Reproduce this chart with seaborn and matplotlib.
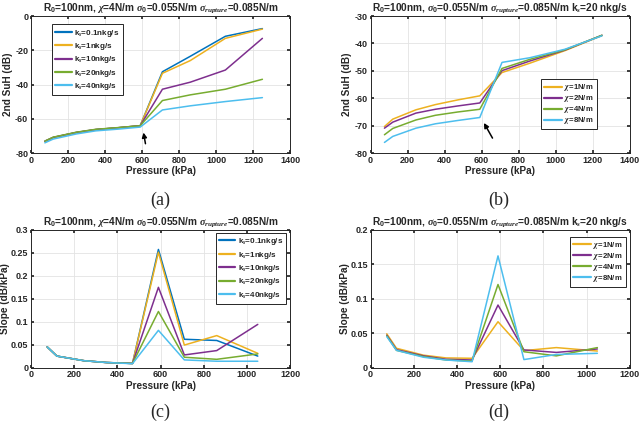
import pandas as pd
import seaborn as sns
import matplotlib.pyplot as plt

# Pressure grid (kPa)
p_suh = [75, 120, 245, 350, 470, 590, 710, 860, 1050, 1250]
p_slope = [75, 120, 245, 350, 470, 590, 710, 860, 1050]

# (a) 2nd SuH vs pressure for several shell viscosities
ks_labels = ['k$_s$=0.1nkg/s', 'k$_s$=1nkg/s', 'k$_s$=10nkg/s', 'k$_s$=20nkg/s', 'k$_s$=40nkg/s']
suh_ks = [
    [-73.2, -70.9, -68.0, -66.3, -65.2, -64.0, -32.5, -23.5, -11.8, -7.3],
    [-73.2, -70.9, -68.0, -66.3, -65.2, -64.0, -33.4, -26.0, -13.0, -7.6],
    [-73.0, -70.8, -67.9, -66.2, -65.2, -64.0, -42.7, -38.6, -31.5, -13.0],
    [-73.0, -70.7, -67.8, -66.1, -65.1, -64.0, -49.3, -46.0, -42.7, -36.9],
    [-74.0, -71.8, -68.8, -67.0, -66.0, -64.8, -54.8, -52.4, -49.9, -47.6],
]

# (b) 2nd SuH vs pressure for several shell elasticities
chi_labels = [r'$\chi$=1N/m', r'$\chi$=2N/m', r'$\chi$=4N/m', r'$\chi$=8N/m']
suh_chi = [
    [-70.3, -67.6, -64.2, -62.3, -60.6, -59.1, -50.6, -47.2, -42.6, -37.1],
    [-70.9, -68.7, -65.4, -64.0, -62.8, -61.7, -49.9, -46.4, -42.4, -37.0],
    [-73.3, -71.0, -67.9, -66.2, -65.0, -64.0, -49.1, -45.8, -42.3, -37.0],
    [-76.1, -73.9, -70.9, -69.3, -68.1, -67.0, -46.9, -45.2, -42.1, -37.2],
]

# (c) slope for several shell viscosities
slope_ks = [
    [0.045, 0.025, 0.015, 0.011, 0.009, 0.257, 0.0616, 0.059, 0.025],
    [0.045, 0.025, 0.015, 0.011, 0.009, 0.251, 0.049, 0.0696, 0.031],
    [0.045, 0.025, 0.015, 0.011, 0.009, 0.1746, 0.0275, 0.037, 0.094],
    [0.045, 0.025, 0.015, 0.011, 0.009, 0.122, 0.0225, 0.018, 0.0297],
    [0.045, 0.025, 0.015, 0.011, 0.0085, 0.081, 0.0167, 0.0138, 0.0138],
]

# (d) slope for several shell elasticities
slope_chi = [
    [0.049, 0.028, 0.018, 0.014, 0.0135, 0.0665, 0.0246, 0.029, 0.024],
    [0.047, 0.026, 0.017, 0.012, 0.011, 0.0907, 0.0256, 0.022, 0.027],
    [0.046, 0.025, 0.016, 0.011, 0.0095, 0.1205, 0.023, 0.017, 0.029],
    [0.045, 0.025, 0.015, 0.011, 0.0085, 0.162, 0.0116, 0.019, 0.0207],
]

colors_ks = ['#0072BD', '#EDB120', '#7E2F8E', '#77AC30', '#4DBEEE']
colors_chi = ['#EDB120', '#7E2F8E', '#77AC30', '#4DBEEE']

title_ks = r'R$_0$=100nm, $\chi$=4N/m $\sigma_0$=0.055N/m $\sigma_{rupture}$=0.085N/m'
title_chi = r'R$_0$=100nm, $\sigma_0$=0.055N/m $\sigma_{rupture}$=0.085N/m k$_s$=20 nkg/s'


def to_long(x, series, labels):
    rows = []
    for lab, vals in zip(labels, series):
        for xv, yv in zip(x, vals):
            rows.append({'Pressure': xv, 'val': yv, 'label': lab})
    return pd.DataFrame(rows)


def main():
    sns.set_theme(style='whitegrid')
    plt.rcParams.update({
        'font.family': ['Liberation Sans', 'DejaVu Sans'],
        'font.weight': 'bold',
        'axes.unicode_minus': False,
        'mathtext.fontset': 'custom',
        'mathtext.rm': 'Liberation Sans:bold',
        'mathtext.bf': 'Liberation Sans:bold',
        'mathtext.it': 'Liberation Serif:italic',
        'axes.edgecolor': '#262626',
    })

    fig = plt.figure(figsize=(6.4, 4.23), dpi=100)
    ax_a = fig.add_axes([0.0484, 0.638, 0.405, 0.324])
    ax_b = fig.add_axes([0.579, 0.638, 0.405, 0.324])
    ax_c = fig.add_axes([0.0484, 0.131, 0.405, 0.326])
    ax_d = fig.add_axes([0.579, 0.131, 0.405, 0.326])

    # legend settings
    leg_ks = dict(fontsize=5.8, handlelength=2.0, labelspacing=0.3)
    leg_chi = dict(fontsize=5.6, handlelength=2.3, labelspacing=0.0)

    panels = [
        (ax_a, to_long(p_suh, suh_ks, ks_labels), ks_labels, colors_ks, title_ks,
         '2nd SuH (dB)', (0, 1400), (-80, 0), 20, -0.07,
         dict(loc='upper left', bbox_to_anchor=(0.082, 0.94), **leg_ks)),
        (ax_b, to_long(p_suh, suh_chi, chi_labels), chi_labels, colors_chi, title_chi,
         '2nd SuH (dB)', (0, 1400), (-80, -30), 10, -0.072,
         dict(loc='upper left', bbox_to_anchor=(0.657, 0.54), **leg_chi)),
        (ax_c, to_long(p_slope, slope_ks, ks_labels), ks_labels, colors_ks, title_ks,
         'Slope (dB/kPa)', (0, 1200), (0, 0.3), 0.05, -0.081,
         dict(loc='upper right', bbox_to_anchor=(0.985, 0.976), **leg_ks)),
        (ax_d, to_long(p_slope, slope_chi, chi_labels), chi_labels, colors_chi, title_chi,
         'Slope (dB/kPa)', (0, 1200), (0, 0.2), 0.05, -0.08,
         dict(loc='upper right', bbox_to_anchor=(0.985, 0.95), **leg_chi)),
    ]

    for ax, df, labels, cols, title, ylab, xlim, ylim, ystep, ylab_x, leg_kw in panels:
        sns.lineplot(data=df, x='Pressure', y='val', hue='label', hue_order=labels,
                     palette=cols, ax=ax, linewidth=1.1, sort=False, estimator=None)
        ax.set_xlim(*xlim)
        ax.set_ylim(*ylim)
        ax.set_xticks(range(xlim[0], xlim[1] + 1, 200))
        n = int(round((ylim[1] - ylim[0]) / ystep))
        yt = [ylim[0] + i * ystep for i in range(n + 1)]
        ax.set_yticks(yt)
        if ystep < 1:
            ax.set_yticklabels(['0' if v == 0 else f'{v:g}' for v in yt])
        ax.set_title(title, fontsize=7.3, fontweight='bold', pad=3)
        ax.set_xlabel('Pressure (kPa)', fontsize=7.2, fontweight='bold', labelpad=1)
        ax.set_ylabel(ylab, fontsize=7.2, fontweight='bold')
        ax.yaxis.set_label_coords(ylab_x, 0.5)
        ax.tick_params(axis='both', labelsize=6.5, pad=2, direction='in', length=2.5,
                       color='#262626', left=True, bottom=True, top=True, right=True)
        for lbl in ax.get_xticklabels() + ax.get_yticklabels():
            lbl.set_fontweight('bold')
        for s in ax.spines.values():
            s.set_linewidth(0.7)
            s.set_color('#262626')
        ax.grid(True, color='#e3e3e3', linewidth=0.6)
        leg = ax.legend(frameon=True, fancybox=False, borderaxespad=0,
                        borderpad=0.4, handletextpad=0.3, **leg_kw)
        leg.get_frame().set_edgecolor('#262626')
        leg.get_frame().set_linewidth(0.7)
        leg.get_frame().set_alpha(1)
        for t in leg.get_texts():
            t.set_fontweight('bold')
        for h in leg.get_lines():
            h.set_linewidth(1.6)

    # arrows marking the rupture point
    ax_a.annotate('', xy=(605, -66.4), xytext=(621, -76.1),
                  arrowprops=dict(arrowstyle='-|>', color='black', lw=1.1, mutation_scale=7))
    ax_b.annotate('', xy=(605, -68.1), xytext=(666, -75.4),
                  arrowprops=dict(arrowstyle='-|>', color='black', lw=1.1, mutation_scale=7))

    # panel labels
    for x, y, s in [(0.25, 0.527, '(a)'), (0.78, 0.527, '(b)'), (0.25, 0.026, '(c)'), (0.78, 0.026, '(d)')]:
        fig.text(x, y, s, ha='center', va='center', fontsize=13,
                 family=['Liberation Serif', 'DejaVu Serif'], fontweight='normal')

    plt.savefig('out.png', dpi=100)


if __name__ == '__main__':
    main()
